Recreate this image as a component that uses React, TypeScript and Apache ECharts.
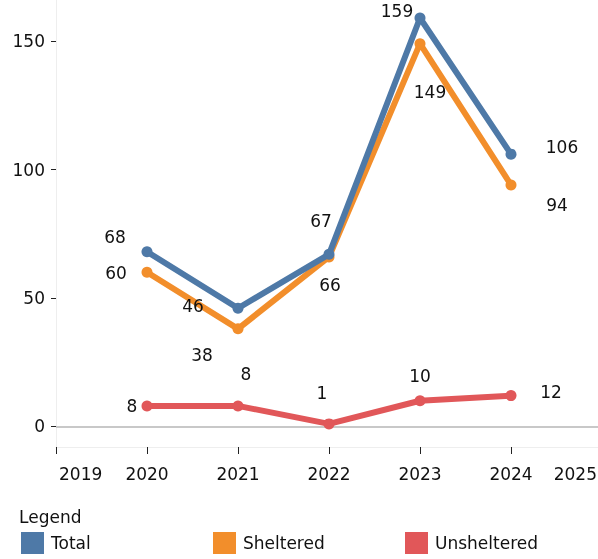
import React, { useEffect, useRef } from "react";
import * as echarts from "echarts";

const years = [2020, 2021, 2022, 2023, 2024];
const totalValues = [68, 46, 67, 159, 106];
const shelteredValues = [60, 38, 66, 149, 94];
const unshelteredValues = [8, 8, 1, 10, 12];
const yTicks = [0, 50, 100, 150];
const seriesNames = ["Total", "Sheltered", "Unsheltered"];
const legendLefts = [21, 213, 405];

// label offsets (styling), relative to each point
const totalLabelOffsets = [[-32, -15], [-45, -2], [-8, -33], [-23, -7], [51, -7]];
const shelteredLabelOffsets = [[-31, 1], [-36, 26], [1, 28], [10, 48], [46, 20]];
const unshelteredLabelOffsets = [[-15, 0], [8, -32], [-7, -31], [0, -25], [40, -4]];

const FONT = '"DejaVu Sans", Verdana, sans-serif';
const FS = 17;
const TEXT = "#111";

function makeSeries(name: string, values: number[], offsets: number[][], color: string, z: number) {
  return {
    name,
    type: "line",
    z,
    data: values.map((v, i) => ({
      value: [years[i], v],
      label: { offset: offsets[i] },
    })),
    symbol: "circle",
    symbolSize: 11,
    lineStyle: { color, width: 6 },
    itemStyle: { color },
    label: {
      show: true,
      position: "inside",
      formatter: (p: any) => String(p.value[1]),
      color: TEXT,
      fontSize: FS,
      fontFamily: FONT,
      align: "center",
      verticalAlign: "middle",
    },
    emphasis: { disabled: true },
  };
}

export default function App() {
  const ref = useRef<HTMLDivElement>(null);
  useEffect(() => {
    if (!ref.current) return;
    const chart = echarts.init(ref.current, null, { renderer: "svg" });
    const sheltered: any = makeSeries("Sheltered", shelteredValues, shelteredLabelOffsets, "#f28e2b", 3);
    sheltered.markLine = {
      silent: true,
      symbol: "none",
      label: { show: false },
      lineStyle: { color: "#c8c8c8", width: 2, type: "solid" },
      data: [{ yAxis: 0 }],
      z: 1,
    };
    const richLabel = { fontSize: FS, color: TEXT, fontFamily: FONT };
    chart.setOption({
      animation: false,
      textStyle: { fontFamily: FONT },
      title: {
        text: "Legend",
        left: 14,
        top: 503,
        textStyle: { fontSize: FS, fontWeight: "normal", color: TEXT, fontFamily: FONT },
      },
      legend: seriesNames.map((name, i) => ({
        data: [name],
        left: legendLefts[i],
        top: 532,
        icon: "rect",
        itemWidth: 23,
        itemHeight: 22,
        selectedMode: false,
        padding: 0,
        textStyle: { fontSize: FS, color: TEXT, fontFamily: FONT, padding: [0, 0, 0, 2] },
      })),
      grid: { left: 56, top: 0, width: 546, height: 447, containLabel: false, outerBoundsMode: "none" },
      xAxis: {
        type: "value",
        min: 2019,
        max: 2025,
        interval: 1,
        axisLine: { show: true, onZero: false, lineStyle: { color: "#eeeeee", width: 1 } },
        axisTick: { show: true, length: 7, lineStyle: { color: "#222" } },
        axisLabel: {
          margin: 18,
          fontSize: FS,
          color: TEXT,
          fontFamily: FONT,
          formatter: (v: number) =>
            v === 2019 ? `{l|${v}}` : v === 2025 ? `{r|${v}}` : `{c|${v}}`,
          rich: {
            l: { ...richLabel, padding: [0, 0, 0, 3] },
            r: { ...richLabel, padding: [0, 5, 0, 0] },
            c: { ...richLabel },
          },
          alignMinLabel: "left",
          alignMaxLabel: "right",
        },
        splitLine: { show: false },
      },
      yAxis: {
        type: "value",
        min: -8,
        max: 166,
        axisLine: { show: true, onZero: false, lineStyle: { color: "#eeeeee", width: 1 } },
        axisTick: { show: true, length: 5, lineStyle: { color: "#222" }, customValues: yTicks },
        axisLabel: { margin: 11, fontSize: FS, color: TEXT, fontFamily: FONT, customValues: yTicks },
        splitLine: { show: false },
      },
      series: [
        sheltered,
        makeSeries("Unsheltered", unshelteredValues, unshelteredLabelOffsets, "#e15759", 4),
        makeSeries("Total", totalValues, totalLabelOffsets, "#4e79a7", 5),
      ],
    });
    return () => chart.dispose();
  }, []);
  return <div ref={ref} style={{ width: 598, height: 559, position: "fixed", left: 0, top: 0 }} />;
}
